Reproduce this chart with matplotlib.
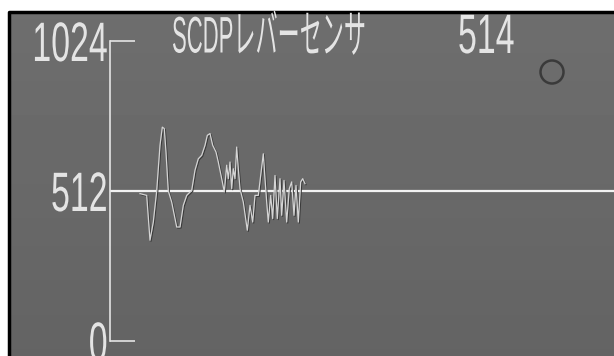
import numpy as np
import matplotlib
matplotlib.use("Agg")
import matplotlib.pyplot as plt
from matplotlib import patheffects, transforms
from matplotlib.patches import Circle

# signal (time in screen samples, value on 0..1024 scale)
t = [30, 36.7, 40, 43.3, 46.7, 50, 52.3, 54.3, 56, 58.3, 61.7, 66.7, 70, 73.3,
     76.7, 81.7, 85, 88.3, 91.7, 95, 97.3, 100, 102.7, 106, 108.3, 111.7, 114.3,
     116.7, 118.3, 120, 121.7, 123.3, 125, 126.7, 128.3, 130, 133.3, 137.3, 140,
     142.7, 145, 148.3, 150.7, 153.3, 155, 156.7, 158.3, 160.7, 162.7, 165,
     167.3, 170, 171.7, 174, 176.7, 179.3, 181.7, 184, 186, 188.3, 190.7, 192.7, 195]
v = [503, 497, 344, 406, 512, 668, 730, 725, 645, 512, 474, 389, 389, 463,
     497, 514, 583, 622, 634, 668, 702, 708, 668, 645, 611, 554, 509,
     600, 554, 611, 520, 588, 554, 662, 588, 520, 474, 378, 463,
     406, 497, 497, 565, 639, 554, 474, 406, 497, 418, 565,
     418, 554, 429, 548, 406, 520, 543, 429, 531, 406, 543, 554, 537]

yticks = [0, 512, 1024]
ytick_labels = ["0", "512", "1024"]
title = "SCDPレバーセンサ"
current = "514"

W, H = 614, 356
FG = "#e4e4e4"
FONT = ["Liberation Sans", "Noto Sans CJK JP"]


class Squeeze(patheffects.AbstractPathEffect):
    """squash glyphs horizontally around a fixed x (display pixels),
    the monitor font is much narrower than anything installed"""
    def __init__(self, sx, px):
        super().__init__()
        self.sx, self.px = sx, px

    def draw_path(self, renderer, gc, tpath, affine, rgbFace=None):
        a = affine + transforms.Affine2D().translate(-self.px, 0).scale(self.sx, 1).translate(self.px, 0)
        renderer.draw_path(gc, tpath, a, rgbFace)


fig = plt.figure(figsize=(W / 100, H / 100), dpi=100)
fig.patch.set_facecolor("white")

# background layer in pixel coordinates
bg = fig.add_axes([0, 0, 1, 1])
bg.set_xlim(0, W)
bg.set_ylim(H, 0)
bg.axis("off")
grad = np.linspace(0.43, 0.39, 50).reshape(-1, 1)
bg.imshow(grad, cmap="gray", vmin=0, vmax=1, extent=[9, W, H, 12], aspect="auto")
bg.plot([9, 9, W], [H, 12, 12], color="black", lw=2.5, solid_capstyle="butt")
bg.add_patch(Circle((552, 72), 11.5, fill=False, ec="#3a3a3a", lw=1.8))

bg.text(172, 39, title, ha="left", va="center", color=FG, fontsize=37, family=FONT,
        path_effects=[Squeeze(0.43, 172)])
bg.text(458, 39, current, ha="left", va="center", color=FG, fontsize=40, family=FONT,
        path_effects=[Squeeze(0.61, 458)])

# the trend graph
ax = fig.add_axes([110 / W, (H - 341) / H, (W - 110) / W, 300 / H])
ax.set_facecolor("none")
ax.set_xlim(0, W - 110)
ax.set_ylim(0, 1024)
for s in ["top", "right", "bottom"]:
    ax.spines[s].set_visible(False)
ax.spines["left"].set_color(FG)
ax.spines["left"].set_linewidth(1.2)
ax.set_xticks([])
ax.set_yticks(yticks, ytick_labels)
ax.tick_params(axis="y", direction="in", length=18, width=1.2, color=FG,
               labelcolor=FG, labelsize=40, pad=2)
for lab in ax.get_yticklabels():
    lab.set_family(FONT)
    lab.set_path_effects([Squeeze(0.61, 108)])

ax.axhline(512, color="#f2f2f2", lw=1.6)
shadow = transforms.offset_copy(ax.transData, fig=fig, x=1, y=-1, units="dots")
ax.plot(t, v, color="#3a3a3a", lw=0.9, transform=shadow)
ax.plot(t, v, color="#d4d4d4", lw=0.9)

fig.savefig("out.png", dpi=100)
